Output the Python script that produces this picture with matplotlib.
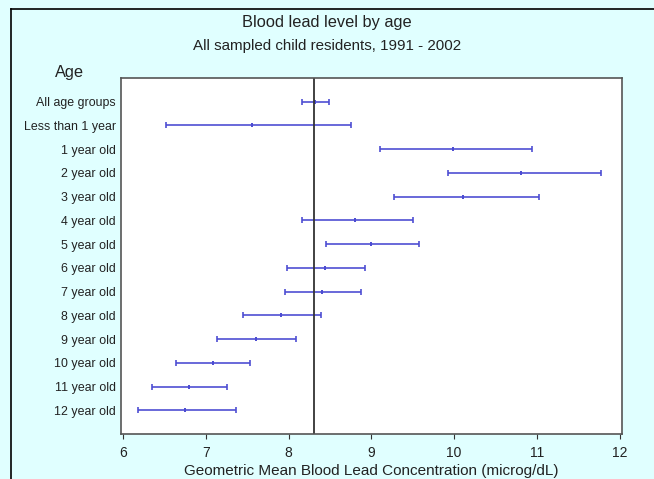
import matplotlib.pyplot as plt
from matplotlib.lines import Line2D

plt.rcParams['font.family'] = ['Liberation Sans', 'DejaVu Sans']

ages = ['All age groups', 'Less than 1 year', '1 year old', '2 year old',
        '3 year old', '4 year old', '5 year old', '6 year old', '7 year old',
        '8 year old', '9 year old', '10 year old', '11 year old', '12 year old']
mean = [8.32, 7.56, 9.99, 10.81, 10.11, 8.80, 9.00, 8.44, 8.40, 7.91, 7.60, 7.08, 6.79, 6.75]
lower = [8.16, 6.52, 9.11, 9.93, 9.27, 8.16, 8.45, 7.98, 7.96, 7.45, 7.13, 6.64, 6.35, 6.18]
upper = [8.49, 8.76, 10.94, 11.78, 11.03, 9.50, 9.58, 8.92, 8.87, 8.39, 8.09, 7.53, 7.26, 7.36]
overall = 8.31

bg = '#e0ffff'
bar_color = '#4b4bd2'

fig = plt.figure(figsize=(6.54, 4.79), dpi=100, facecolor=bg)
ax = fig.add_axes([120.7 / 654, 1 - 434 / 479, (622 - 120.7) / 654, (434 - 78) / 479])

ypos = list(range(len(ages)))
xerr = [[m - lo for m, lo in zip(mean, lower)], [hi - m for m, hi in zip(mean, upper)]]
ax.errorbar(mean, ypos, xerr=xerr, fmt='none', ecolor=bar_color, elinewidth=1.3,
            capsize=2.2, capthick=1.3, alpha=0.9)
ax.plot(mean, ypos, linestyle='none', marker='|', markersize=3.5, markeredgewidth=1.4,
        color=bar_color)
ax.axvline(overall, color='#333333', linewidth=1.3)

ax.set_xlim(5.97, 12.03)
ax.set_ylim(len(ages), -1)
ax.set_xticks(range(6, 13))
ax.set_yticks(ypos)
ax.set_yticklabels(ages)
ax.tick_params(axis='y', length=0, pad=3.5, labelsize=8.9, labelcolor='#222222')
ax.tick_params(axis='x', length=3.5, pad=5, labelsize=10, color='#333333', labelcolor='#222222')
for s in ax.spines.values():
    s.set_color('#555555')
    s.set_linewidth(1.2)

ax.set_xlabel('Geometric Mean Blood Lead Concentration (microg/dL)', fontsize=11, labelpad=3,
              color='#222222')

fig.text(0.5, 1 - 22 / 479, 'Blood lead level by age', ha='center', va='center', fontsize=11.8,
         color='#222222')
fig.text(0.5, 1 - 46 / 479, 'All sampled child residents, 1991 - 2002', ha='center', va='center',
         fontsize=10.9, color='#222222')
fig.text(69 / 654, 1 - 73 / 479, 'Age', ha='center', va='center', fontsize=11.8, color='#222222')

# frame around the figure (only left and top visible in the crop)
fig.add_artist(Line2D([10.5 / 654, 10.5 / 654], [0, 1 - 9 / 479], transform=fig.transFigure,
                      color='black', linewidth=1.2))
fig.add_artist(Line2D([10.5 / 654, 1], [1 - 9 / 479, 1 - 9 / 479], transform=fig.transFigure,
                      color='black', linewidth=1.2))

fig.savefig('out.png', dpi=100, facecolor=bg)
